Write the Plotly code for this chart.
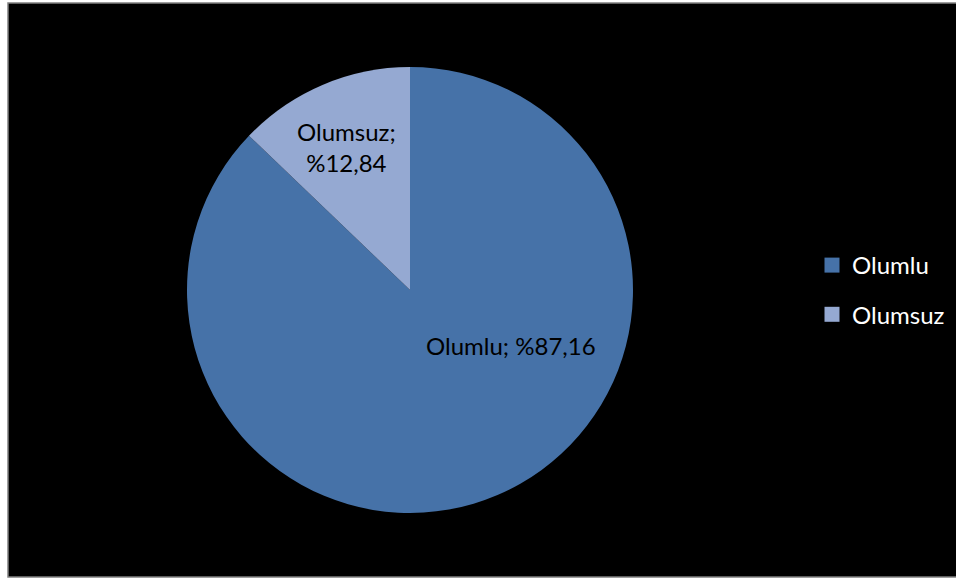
import plotly.graph_objects as go

labels = ["Olumlu", "Olumsuz"]
values = [87.16, 12.84]
value_text = ["%87,16", "%12,84"]
colors = ["#4672A8", "#95A9D2"]

W, H = 956, 579
FONT = "Lato, Open Sans, sans-serif"

fig = go.Figure()
fig.add_trace(go.Pie(
    labels=labels, values=values, sort=False, direction="clockwise", rotation=0,
    marker=dict(colors=colors, line=dict(width=0)),
    textinfo="none", hoverinfo="label+percent", showlegend=False,
    domain=dict(x=[187 / W, 633 / W], y=[1 - 513 / H, 1 - 67 / H]),
))

# legend entries
for lab, col in zip(labels, colors):
    fig.add_trace(go.Scatter(
        x=[None], y=[None], mode="markers", name=lab, legendgroup=lab,
        marker=dict(symbol="square", size=15, color=col),
        showlegend=True,
    ))

# data labels
fig.add_annotation(x=511 / W, y=1 - 345 / H, xref="paper", yref="paper",
                   text=f"{labels[0]}; {value_text[0]}", showarrow=False,
                   font=dict(family=FONT, size=24, color="black"))
fig.add_annotation(x=346 / W, y=1 - 147 / H, xref="paper", yref="paper",
                   yanchor="middle", valign="middle",
                   text=f"{labels[1]};<br>{value_text[1]}", showarrow=False,
                   font=dict(family=FONT, size=24, color="black"))

# chart area border
fig.add_shape(type="rect", xref="paper", yref="paper",
              x0=8 / W, x1=1.01, y0=1 - 577 / H, y1=1 - 3 / H,
              fillcolor="black", line=dict(color="#808080", width=1.5), layer="below")

fig.update_layout(
    width=W, height=H, margin=dict(l=0, r=0, t=0, b=0),
    paper_bgcolor="white", plot_bgcolor="rgba(0,0,0,0)",
    xaxis=dict(visible=False), yaxis=dict(visible=False),
    legend=dict(x=812 / W, y=1 - 290 / H, xanchor="left", yanchor="middle",
                bgcolor="rgba(0,0,0,0)", tracegroupgap=15,
                font=dict(family=FONT, size=24, color="white")),
)

fig.write_html("out.html", config={"displayModeBar": False},
               post_script="document.body.style.margin='0';document.body.style.padding='0';")
